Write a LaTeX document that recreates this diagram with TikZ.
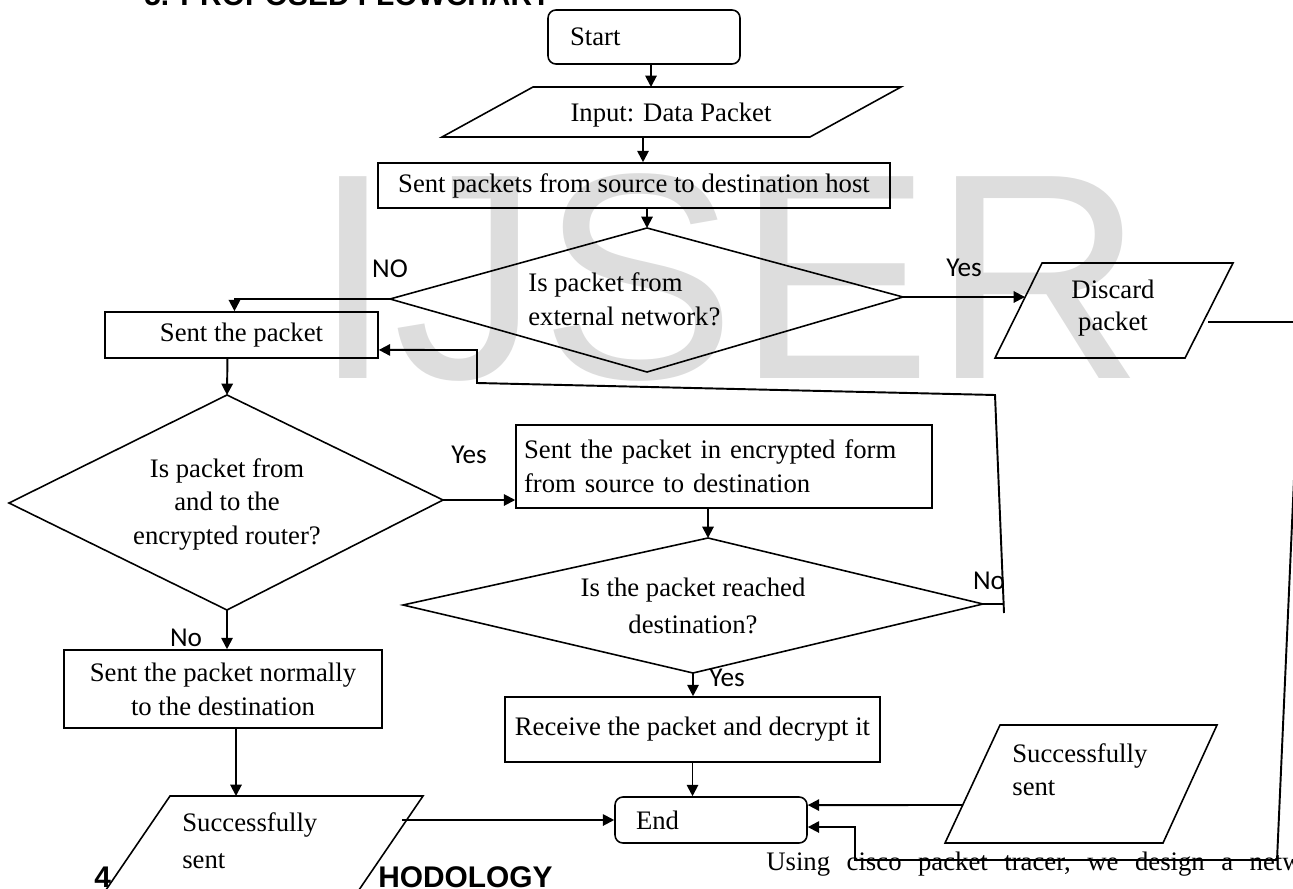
\documentclass[tikz,border=0pt]{standalone}
\usepackage{fontspec}
\setmainfont{Liberation Serif}
\newfontfamily\lblfont{Carlito}
\newfontfamily\hdfont{Liberation Sans}
\usetikzlibrary{arrows.meta,calc}
\definecolor{wmgray}{RGB}{221,221,221}
\begin{document}
\begin{tikzpicture}[x=0.02cm,y=-0.02cm,
  shapeline/.style={draw=black, line width=0.9pt},
  box/.style={shapeline, rectangle, inner sep=0pt},
  term/.style={shapeline, rectangle, rounded corners=4.5pt, inner sep=0pt},
  txt/.style={font=\fontsize{15.2}{19.3}\selectfont, inner sep=0pt},
  lbl/.style={font=\lblfont\fontsize{15.5}{18}\selectfont, inner sep=0pt},
  arr/.style={line width=1.1pt, -{Triangle[length=6.5pt,width=6.5pt]}},
  conn/.style={line width=0.9pt},
]
\useasboundingbox (0,0) rectangle (1293,888);
\clip (0,0) rectangle (1293,888);

% watermark
\node[font=\hdfont\fontsize{167}{167}\selectfont, text=wmgray, anchor=base west, inner sep=0pt] (wm) at (312,378) {IJSER};

% page fragments
\node[font=\hdfont\bfseries\fontsize{17}{20}\selectfont, anchor=base west, inner sep=0pt] (head) at (144,6) {5. PROPOSED FLOWCHART};
\node[font=\hdfont\bfseries\fontsize{17}{20}\selectfont, anchor=base west, inner sep=0pt] (sec4) at (94,887) {4};
\node[font=\hdfont\bfseries\fontsize{17}{20}\selectfont, anchor=base west, inner sep=0pt] (sec4b) at (378,887) {HODOLOGY};
\node[font=\fontsize{15.2}{18}\selectfont, anchor=base west, inner sep=0pt] (body) at (766,870) {\spaceskip=0.62em\relax Using cisco packet tracer, we design a network};

% Start
\node[term, txt, minimum width=3.84cm, minimum height=1.08cm, text width=2.96cm, align=left] (start) at (644,37) {Start};

% Input parallelogram
\draw[shapeline] (533,87) -- (901,87) -- (810,137) -- (442,137) -- cycle;
\node[txt, anchor=base] (input) at (671,122) {Input: Data Packet};
\coordinate (inN) at (651,87);
\coordinate (inS) at (643,137);

% Sent packets
\node[box, txt, minimum width=10.24cm, minimum height=0.9cm] (sentpk) at (634,185.5) {Sent packets from source to destination host};

% Diamond 1
\coordinate (d1t) at (647,228);
\coordinate (d1r) at (903,297);
\coordinate (d1b) at (647,372);
\coordinate (d1l) at (390,299);
\draw[shapeline] (d1t) -- (d1r) -- (d1b) -- (d1l) -- cycle;
\node[txt, anchor=base west] (q1a) at (528,292) {Is packet from};
\node[txt, anchor=base west] (q1b) at (528,325) {external network?};

% Discard packet
\coordinate (dsA) at (1042,263);
\coordinate (dsB) at (1233,263);
\coordinate (dsC) at (1185,358);
\coordinate (dsD) at (995,358);
\draw[shapeline] (dsA) -- (dsB) -- (dsC) -- (dsD) -- cycle;
\node[txt, anchor=base] (disc1) at (1113,298) {Discard};
\node[txt, anchor=base] (disc2) at (1113,330) {packet};
\coordinate (dsL) at (1025,297);
\coordinate (dsR) at (1208,322);

% Sent the packet
\node[box, txt, minimum width=5.46cm, minimum height=0.92cm] (sentp) at (241.5,335) {Sent the packet};

% Diamond 2
\coordinate (d2t) at (227,395);
\coordinate (d2r) at (443,500);
\coordinate (d2b) at (227,610);
\coordinate (d2l) at (9,503);
\draw[shapeline] (d2t) -- (d2r) -- (d2b) -- (d2l) -- cycle;
\node[txt, anchor=base] (q2a) at (227,477) {Is packet from};
\node[txt, anchor=base] (q2b) at (227,510) {and to the};
\node[txt, anchor=base] (q2c) at (227,544) {encrypted router?};

% Encrypted
\node[box, txt, minimum width=8.32cm, minimum height=1.66cm, text width=8cm, align=left] (enc) at (724,466.5) {Sent the packet in encrypted form\\from source to destination};

% Diamond 3
\coordinate (d3t) at (708,538);
\coordinate (d3r) at (983,604);
\coordinate (d3b) at (693,673);
\coordinate (d3l) at (403,605);
\draw[shapeline] (d3t) -- (d3r) -- (d3b) -- (d3l) -- cycle;
\node[txt, anchor=base] (q3a) at (693,596) {Is the packet reached};
\node[txt, anchor=base] (q3b) at (693,633) {destination?};

% Receive
\node[box, txt, minimum width=7.5cm, minimum height=1.3cm] (recv) at (692.5,729.5) {Receive the packet and decrypt it};

% End
\node[term, txt, minimum width=3.84cm, minimum height=0.92cm, text width=3cm, align=left] (end) at (711,820) {End};

% Normal
\node[box, txt, minimum width=6.36cm, minimum height=1.56cm, align=center] (normal) at (223,689) {Sent the packet normally\\to the destination};

% Successfully sent (left)
\coordinate (sLa) at (170,796);
\coordinate (sLb) at (423,796);
\coordinate (sLc) at (318,950);
\coordinate (sLd) at (65,950);
\draw[shapeline] (sLa) -- (sLb) -- (sLc) -- (sLd) -- cycle;
\node[txt, anchor=base west] (sL1) at (182,831) {Successfully};
\node[txt, anchor=base west] (sL2) at (182,868) {sent};
\coordinate (sLt) at (236,796);
\coordinate (sLr) at (402,820);

% Successfully sent (right)
\coordinate (sRa) at (1000,725);
\coordinate (sRb) at (1217,725);
\coordinate (sRc) at (1163,843);
\coordinate (sRd) at (945,843);
\draw[shapeline] (sRa) -- (sRb) -- (sRc) -- (sRd) -- cycle;
\node[txt, anchor=base west] (sR1) at (1012,762) {Successfully};
\node[txt, anchor=base west] (sR2) at (1012,795) {sent};
\coordinate (sRl) at (963,805);

% labels
\node[lbl] (lNO) at (390,269) {NO};
\node[lbl] (lYes1) at (964,268) {Yes};
\node[lbl] (lYes2) at (469,455) {Yes};
\node[lbl] (lNo2) at (186,638) {No};
\node[lbl] (lNo3) at (989,581) {No};
\node[lbl] (lYes3) at (727,678) {Yes};

% connectors
\draw[arr] (inN |- start.south) -- (inN);
\draw[arr] (inS) -- (inS |- sentpk.north);
\draw[arr] (d1t |- sentpk.south) -- (d1t);
\draw[arr] (d1l) -| ([xshift=-4pt]sentp.north);
\draw[arr] (d1r) -- (dsL);
\draw[arr] ([xshift=-8pt]sentp.south) -- (d2t);
\draw[arr] (d2r) -- (d2r -| enc.west);
\draw[arr] (d3t |- enc.south) -- (d3t);
\draw[conn] (d3r) -- (1004,604);
\draw[arr] (1004,613) -- (995,395) -- (477,383) -- (477,350) -- ([yshift=-8.5pt]sentp.east);
\draw[arr] (d3b) -- (d3b |- recv.north);
\draw[arr] (recv.south) -- (recv.south |- end.north);
\draw[arr] (d2b) -- (d2b |- normal.north);
\draw[arr] (sLt |- normal.south) -- (sLt);
\draw[arr] (sLr) -- (end.west);
\draw[arr] (sRl) -- ([yshift=8.5pt]end.east);
\draw[arr] (dsR) -- (1301,322) -- (1277,860) -- (855,860) -- (855,827) -- ([yshift=-4pt]end.east);
\end{tikzpicture}
\end{document}
